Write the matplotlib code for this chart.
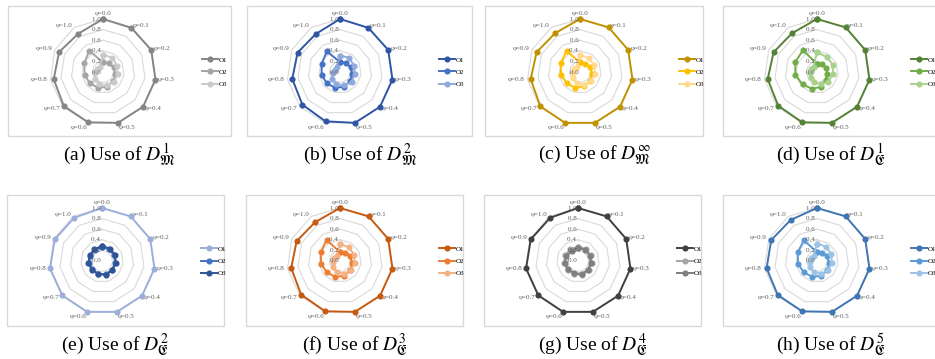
import numpy as np
import matplotlib
matplotlib.use("Agg")
import matplotlib.pyplot as plt
from matplotlib.patches import Rectangle

plt.rcParams['font.family'] = ['Liberation Serif', 'DejaVu Serif']
plt.rcParams['mathtext.fontset'] = 'stix'

W, H = 935, 359

# categories (spokes) and radial ticks
phi_labels = ['φ=0.0', 'φ=0.1', 'φ=0.2', 'φ=0.3', 'φ=0.4', 'φ=0.5',
              'φ=0.6', 'φ=0.7', 'φ=0.8', 'φ=0.9', 'φ=1.0']
r_ticks = [0.0, 0.2, 0.4, 0.6, 0.8, 1.0]
series_names = ['O1', 'O2', 'O3']

captions = [r'(a) Use of $D_{\mathfrak{M}}^{1}$', r'(b) Use of $D_{\mathfrak{M}}^{2}$',
            r'(c) Use of $D_{\mathfrak{M}}^{\infty}$', r'(d) Use of $D_{\mathfrak{E}}^{1}$',
            r'(e) Use of $D_{\mathfrak{E}}^{2}$', r'(f) Use of $D_{\mathfrak{E}}^{3}$',
            r'(g) Use of $D_{\mathfrak{E}}^{4}$', r'(h) Use of $D_{\mathfrak{E}}^{5}$']

# values, one list per series per panel
a_o1 = [1.00, 0.99, 1.00, 1.00, 1.00, 1.00, 0.99, 0.98, 0.94, 0.91, 0.86]
a_o2 = [0.18, 0.20, 0.22, 0.23, 0.26, 0.29, 0.31, 0.33, 0.35, 0.39, 0.48]
a_o3 = [0.33, 0.32, 0.29, 0.28, 0.28, 0.26, 0.24, 0.20, 0.15, 0.12, 0.12]

b_o1 = [1.00, 0.99, 1.00, 1.00, 1.00, 1.00, 0.97, 0.94, 0.91, 0.88, 0.85]
b_o2 = [0.19, 0.20, 0.22, 0.23, 0.26, 0.29, 0.31, 0.33, 0.35, 0.38, 0.46]
b_o3 = [0.31, 0.32, 0.29, 0.28, 0.29, 0.26, 0.24, 0.20, 0.13, 0.11, 0.12]

c_o1 = [1.00, 1.00, 1.00, 1.00, 1.00, 1.00, 1.00, 0.99, 0.94, 0.90, 0.87]
c_o2 = [0.18, 0.19, 0.21, 0.23, 0.25, 0.28, 0.31, 0.33, 0.36, 0.40, 0.47]
c_o3 = [0.32, 0.31, 0.30, 0.28, 0.27, 0.25, 0.22, 0.18, 0.14, 0.12, 0.12]

d_o1 = [1.00, 1.00, 1.00, 1.00, 1.00, 1.00, 0.99, 0.97, 0.94, 0.90, 0.87]
d_o2 = [0.15, 0.17, 0.19, 0.20, 0.22, 0.29, 0.33, 0.36, 0.41, 0.45, 0.49]
d_o3 = [0.37, 0.34, 0.33, 0.30, 0.28, 0.24, 0.20, 0.16, 0.13, 0.12, 0.12]

e_o1 = [1.00, 1.00, 1.00, 1.00, 1.00, 1.00, 1.00, 0.99, 0.99, 0.98, 0.97]
e_o2 = [0.26, 0.26, 0.25, 0.25, 0.25, 0.26, 0.25, 0.24, 0.25, 0.24, 0.25]
e_o3 = [0.28, 0.28, 0.27, 0.26, 0.26, 0.27, 0.26, 0.25, 0.26, 0.25, 0.27]

f_o1 = [1.00, 1.00, 1.00, 1.00, 1.00, 1.00, 0.99, 0.97, 0.93, 0.90, 0.87]
f_o2 = [0.17, 0.19, 0.21, 0.23, 0.26, 0.29, 0.31, 0.33, 0.36, 0.40, 0.47]
f_o3 = [0.32, 0.31, 0.29, 0.28, 0.27, 0.25, 0.22, 0.18, 0.14, 0.12, 0.12]

g_o1 = [1.00, 1.00, 1.00, 1.00, 1.00, 1.00, 1.00, 0.99, 0.99, 0.98, 0.97]
g_o2 = [0.27, 0.27, 0.26, 0.26, 0.27, 0.27, 0.26, 0.26, 0.27, 0.26, 0.27]
g_o3 = [0.25, 0.25, 0.24, 0.24, 0.25, 0.25, 0.24, 0.24, 0.25, 0.24, 0.22]

h_o1 = [1.00, 1.00, 1.00, 1.00, 1.00, 1.00, 0.99, 0.98, 0.96, 0.95, 0.92]
h_o2 = [0.17, 0.19, 0.21, 0.23, 0.26, 0.29, 0.31, 0.33, 0.36, 0.40, 0.46]
h_o3 = [0.33, 0.32, 0.30, 0.28, 0.27, 0.25, 0.22, 0.18, 0.14, 0.12, 0.12]

panel_data = [(a_o1, a_o2, a_o3), (b_o1, b_o2, b_o3), (c_o1, c_o2, c_o3), (d_o1, d_o2, d_o3),
              (e_o1, e_o2, e_o3), (f_o1, f_o2, f_o3), (g_o1, g_o2, g_o3), (h_o1, h_o2, h_o3)]

panel_colors = [
    ('#858585', '#A5A5A5', '#CACACA'),
    ('#2F55A4', '#4472C4', '#8FAADC'),
    ('#C09200', '#FFC000', '#FFD98C'),
    ('#548235', '#70AD47', '#A9D18E'),
    ('#9DAEDB', '#4472C4', '#2F5597'),
    ('#C55A11', '#ED7D31', '#F4B183'),
    ('#404040', '#A5A5A5', '#7F7F7F'),
    ('#3E75B2', '#5B9BD5', '#9DC3E6'),
]

# layout in pixels (from top-left)
boxes = [(8, 6, 223, 130), (247, 6, 225, 130), (485, 6, 218, 130), (723, 6, 216, 130),
         (7, 195, 217, 131), (246, 195, 217, 131), (484, 195, 217, 131), (723, 195, 216, 131)]
centers = [(103, 72), (340, 72), (580, 72), (817, 72),
           (102, 261), (340, 261), (578, 261), (817, 261)]
R = 53

fig = plt.figure(figsize=(W / 100, H / 100), dpi=100)

n = len(phi_labels)
theta = np.arange(n) * 2 * np.pi / n
theta_c = np.append(theta, theta[0])

for k in range(8):
    bx, by, bw, bh = boxes[k]
    fig.add_artist(Rectangle((bx / W, 1 - (by + bh) / H), bw / W, bh / H,
                             transform=fig.transFigure, fill=False,
                             edgecolor='#D9D9D9', lw=1.0))
    fig.text((bx + bw / 2) / W, 1 - (by + bh + 19) / H, captions[k],
             ha='center', va='center', fontsize=14)

    cx, cy = centers[k]
    ax = fig.add_axes([(cx - R) / W, 1 - (cy + R) / H, 2 * R / W, 2 * R / H],
                      projection='polar')
    ax.set_theta_zero_location('N')
    ax.set_theta_direction(-1)
    ax.set_ylim(0, 1)
    ax.axis('off')

    for r in r_ticks[1:]:
        ax.plot(theta_c, [r] * (n + 1), color='#D9D9D9', lw=0.8, clip_on=False, zorder=1)
    for r in r_ticks:
        ax.text(0, r, f'{r:.1f} ', ha='right', va='center', fontsize=5,
                color='#595959', zorder=5)
    for t, lab in zip(theta, phi_labels):
        s, c = np.sin(t), np.cos(t)
        ha = 'center' if abs(s) < 0.2 else ('left' if s > 0 else 'right')
        va = 'bottom' if c > 0.9 else ('top' if c < -0.9 else 'center')
        ax.text(t, 1.05, lab, ha=ha, va=va, fontsize=5, color='#595959')

    lines = []
    for vals, col, name in zip(panel_data[k], panel_colors[k], series_names):
        v = list(vals) + [vals[0]]
        ln, = ax.plot(theta_c, v, color=col, lw=1.4, marker='o', markersize=3.4,
                      clip_on=False, zorder=3, label=name)
        lines.append(ln)

    lx = min(cx + 96, W - 27)
    fig.legend(handles=lines, loc='center left',
               bbox_to_anchor=(lx / W, 1 - cy / H),
               frameon=False, fontsize=5, handlelength=2.2,
               handletextpad=0.2, labelspacing=0.9, borderpad=0)

fig.savefig('out.png', dpi=100)
